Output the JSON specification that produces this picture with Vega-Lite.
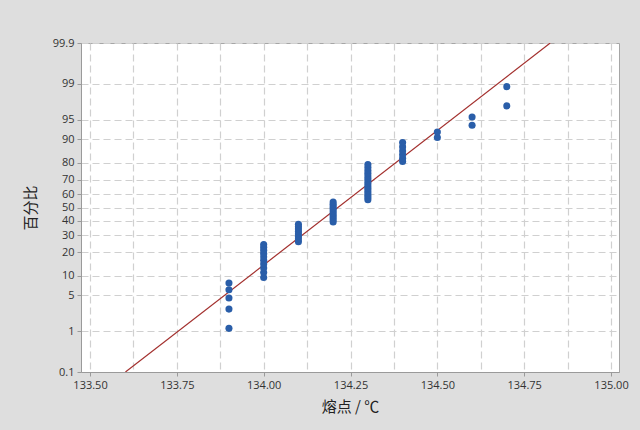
{
  "$schema": "https://vega.github.io/schema/vega-lite/v6.json",
  "width": 538,
  "height": 329,
  "autosize": {"type": "none"},
  "padding": {"left": 81, "top": 43, "right": 21, "bottom": 58},
  "background": "#dedede",
  "config": {
    "view": {"fill": "white", "stroke": "#a6a6a6", "strokeWidth": 1},
    "axis": {
      "labelFont": "Open Sans",
      "labelFontSize": 11,
      "labelColor": "#333333",
      "domainColor": "#9a9a9a",
      "tickColor": "#9a9a9a",
      "tickSize": 4,
      "gridColor": "#d0d0d0",
      "gridDash": [7, 4],
      "gridWidth": 1.2,
      "titleFont": "Noto Sans CJK SC",
      "titleFontSize": 15,
      "titleFontWeight": "normal",
      "titleColor": "#222222"
    }
  },
  "datasets": {
    "melt": [
      {"temp": 133.9, "score": -2.2706}, {"temp": 133.9, "score": -1.9088}, {"temp": 133.9, "score": -1.6986}, {"temp": 133.9, "score": -1.5443}, {"temp": 133.9, "score": -1.4199},
      {"temp": 134.0, "score": -1.3143}, {"temp": 134.0, "score": -1.2216}, {"temp": 134.0, "score": -1.1384}, {"temp": 134.0, "score": -1.0623}, {"temp": 134.0, "score": -0.9920},
      {"temp": 134.0, "score": -0.9263}, {"temp": 134.0, "score": -0.8643}, {"temp": 134.0, "score": -0.8055}, {"temp": 134.0, "score": -0.7494}, {"temp": 134.0, "score": -0.6955},
      {"temp": 134.1, "score": -0.6436}, {"temp": 134.1, "score": -0.5933}, {"temp": 134.1, "score": -0.5445}, {"temp": 134.1, "score": -0.4970},
      {"temp": 134.1, "score": -0.4506}, {"temp": 134.1, "score": -0.4051}, {"temp": 134.1, "score": -0.3604}, {"temp": 134.1, "score": -0.3165},
      {"temp": 134.2, "score": -0.2731}, {"temp": 134.2, "score": -0.2303}, {"temp": 134.2, "score": -0.1878}, {"temp": 134.2, "score": -0.1458}, {"temp": 134.2, "score": -0.1039},
      {"temp": 134.2, "score": -0.0623}, {"temp": 134.2, "score": -0.0207}, {"temp": 134.2, "score": 0.0207}, {"temp": 134.2, "score": 0.0623}, {"temp": 134.2, "score": 0.1039},
      {"temp": 134.3, "score": 0.1458}, {"temp": 134.3, "score": 0.1878}, {"temp": 134.3, "score": 0.2303}, {"temp": 134.3, "score": 0.2731}, {"temp": 134.3, "score": 0.3165},
      {"temp": 134.3, "score": 0.3604}, {"temp": 134.3, "score": 0.4051}, {"temp": 134.3, "score": 0.4506}, {"temp": 134.3, "score": 0.4970}, {"temp": 134.3, "score": 0.5445},
      {"temp": 134.3, "score": 0.5933}, {"temp": 134.3, "score": 0.6436}, {"temp": 134.3, "score": 0.6955}, {"temp": 134.3, "score": 0.7494}, {"temp": 134.3, "score": 0.8055},
      {"temp": 134.4, "score": 0.8643}, {"temp": 134.4, "score": 0.9263}, {"temp": 134.4, "score": 0.9920}, {"temp": 134.4, "score": 1.0623}, {"temp": 134.4, "score": 1.1384}, {"temp": 134.4, "score": 1.2216},
      {"temp": 134.5, "score": 1.3143}, {"temp": 134.5, "score": 1.4199},
      {"temp": 134.6, "score": 1.5443}, {"temp": 134.6, "score": 1.6986},
      {"temp": 134.7, "score": 1.9088}, {"temp": 134.7, "score": 2.2706}
    ],
    "fit": [
      {"temp": 133.602, "score": -3.0902},
      {"temp": 134.825, "score": 3.0902}
    ]
  },
  "encoding": {
    "x": {
      "field": "temp",
      "type": "quantitative",
      "scale": {"domain": [133.474, 135.023], "nice": false, "zero": false},
      "axis": {
        "title": "熔点 / ℃",
        "titlePadding": 9,
        "values": [133.5, 133.625, 133.75, 133.875, 134.0, 134.125, 134.25, 134.375, 134.5, 134.625, 134.75, 134.875, 135.0],
        "labelExpr": "abs(datum.value * 4 - round(datum.value * 4)) < 0.001 ? format(datum.value, '.2f') : ''",
        "tickOpacity": {"condition": {"test": "abs(datum.value * 4 - round(datum.value * 4)) < 0.001", "value": 1}, "value": 0},
        "grid": true,
        "labelPadding": 3
      }
    },
    "y": {
      "field": "score",
      "type": "quantitative",
      "scale": {"domain": [-3.0902, 3.0902], "nice": false, "zero": false},
      "axis": {
        "title": "百分比",
        "titlePadding": 14,
        "values": [-3.0902, -2.3263, -1.6449, -1.2816, -0.8416, -0.5244, -0.2533, 0, 0.2533, 0.5244, 0.8416, 1.2816, 1.6449, 2.3263, 3.0902],
        "labelExpr": "datum.value < -3 ? '0.1' : datum.value < -2 ? '1' : datum.value < -1.5 ? '5' : datum.value < -1 ? '10' : datum.value < -0.7 ? '20' : datum.value < -0.4 ? '30' : datum.value < -0.1 ? '40' : datum.value < 0.1 ? '50' : datum.value < 0.4 ? '60' : datum.value < 0.7 ? '70' : datum.value < 1 ? '80' : datum.value < 1.5 ? '90' : datum.value < 2 ? '95' : datum.value < 3 ? '99' : '99.9'",
        "grid": true,
        "labelPadding": 3
      }
    }
  },
  "layer": [
    {
      "data": {"name": "fit"},
      "mark": {"type": "line", "color": "#a3302e", "strokeWidth": 1.2, "clip": true}
    },
    {
      "data": {"name": "melt"},
      "mark": {"type": "circle", "color": "#2a5ea9", "opacity": 1, "size": 50}
    }
  ]
}
